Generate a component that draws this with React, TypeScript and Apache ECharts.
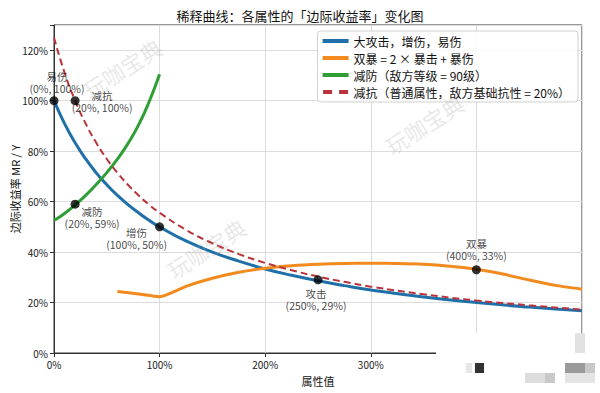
import React, { useEffect, useRef } from "react";
import * as echarts from "echarts";

const FONT = '"Noto Sans CJK SC", "Noto Sans", sans-serif';

const titleText = "稀释曲线：各属性的「边际收益率」变化图";
const xAxisName = "属性值";
const yAxisName = "边际收益率 MR / Y";
const seriesNames = [
  "大攻击，增伤，易伤",
  "双暴 = 2 × 暴击 + 暴伤",
  "减防（敌方等级 = 90级）",
  "减抗（普通属性，敌方基础抗性 = 20%）",
];

// x in %, y in %
const blueX = [0, 10, 20, 30, 40, 50, 60, 70, 80, 90, 100, 125, 150, 175, 200, 225, 250, 275, 300, 350, 400, 450, 500];
const blueY = [100, 90.9, 83.3, 76.9, 71.4, 66.7, 62.5, 58.8, 55.6, 52.6, 50, 44.4, 40, 36.4, 33.3, 30.8, 28.6, 26.7, 25, 22.2, 20, 18.2, 16.7];

const redX = [0, 10, 20, 30, 40, 50, 60, 70, 80, 90, 100, 125, 150, 175, 200, 225, 250, 275, 300, 350, 400, 450, 500];
const redY = [125, 111.1, 100, 90.9, 83.3, 76.9, 71.4, 66.7, 62.5, 58.8, 55.6, 48.8, 43.5, 39.2, 35.7, 32.8, 30.3, 28.2, 26.3, 23.3, 20.8, 18.9, 17.2];

const greenX = [0, 10, 20, 30, 40, 50, 60, 70, 80, 90, 100];
const greenY = [52.5, 55.3, 58.7, 62.5, 66.8, 71.5, 76.8, 83, 90.3, 99.5, 110.5];

const orangeX = [60, 80, 100, 125, 150, 175, 200, 225, 250, 275, 300, 325, 350, 375, 400, 425, 450, 475, 500];
const orangeY = [24.4, 23.4, 22.3, 26.4, 29.6, 32, 33.6, 34.6, 35.2, 35.5, 35.6, 35.5, 35.2, 34.4, 33.2, 31.3, 28.9, 26.8, 25.3];

const pointNames = ["易伤", "减抗", "减防", "增伤", "攻击", "双暴"];
const pointX = [0, 20, 20, 100, 250, 400];
const pointY = [100, 100, 59, 50, 29, 33];

const xTicks = [0, 100, 200, 300, 400, 500];
const yTicks = [0, 20, 40, 60, 80, 100, 120];

const labelOffsets: Record<string, number[]> = {
  易伤: [3, -18],
  减抗: [27, 1],
  减防: [17, 13],
  增伤: [-23, 12],
  攻击: [-2, 20],
  双暴: [0, -20],
};

const seriesColors = ["#1f6fa8", "#f28a1e", "#2e9e35", "#b8343a"];

const zip = (xs: number[], ys: number[]) => xs.map((x, i) => [x, ys[i]]);

export default function App() {
  const ref = useRef<HTMLDivElement>(null);
  useEffect(() => {
    if (!ref.current) return;
    const chart = echarts.init(ref.current, null, { renderer: "svg" });
    const lineCommon = {
      type: "line" as const,
      symbol: "none",
      showSymbol: false,
      z: 3,
    };
    const watermark = (x: number, y: number) => ({
      type: "text",
      x,
      y,
      rotation: Math.PI / 5.5,
      z: 100,
      style: {
        text: "玩咖宝典",
        font: `22px ${FONT}`,
        fill: "rgba(170,170,170,0.28)",
        align: "center",
        verticalAlign: "middle",
      },
    });
    const solidIcon = "path://M0,0H26V4H0Z";
    const dashIcon = "path://M0,0H9V4H0Z M16,0H25V4H16Z";
    chart.setOption({
      animation: false,
      backgroundColor: "#fff",
      textStyle: { fontFamily: FONT },
      title: {
        text: titleText,
        left: "center",
        top: 4,
        textStyle: { fontSize: 13, fontWeight: "normal", color: "#111", fontFamily: FONT },
      },
      legend: {
        orient: "vertical",
        right: 22,
        top: 31,
        itemWidth: 26,
        itemHeight: 4,
        itemGap: 5,
        padding: [4, 8, 4, 5],
        borderColor: "#d0d0d0",
        borderWidth: 1,
        borderRadius: 3,
        backgroundColor: "rgba(255,255,255,0.85)",
        textStyle: { fontSize: 12, color: "#111", fontFamily: FONT, lineHeight: 12 },
        data: seriesNames.map((n, i) => ({
          name: n,
          icon: i === 3 ? dashIcon : solidIcon,
          itemStyle: { color: seriesColors[i] },
        })),
      },
      grid: {
        left: 54,
        right: 18,
        top: 25,
        bottom: 40,
        show: true,
        borderColor: "#333",
        borderWidth: 1,
        backgroundColor: "transparent",
        outerBoundsMode: "none",
        containLabel: false,
      },
      xAxis: {
        type: "value",
        min: 0,
        max: 500,
        interval: 100,
        name: xAxisName,
        nameLocation: "middle",
        nameGap: 22,
        nameMoveOverlap: false,
        nameTextStyle: { fontSize: 11, color: "#111", fontFamily: FONT },
        axisLine: { show: true, lineStyle: { color: "#333" } },
        axisTick: { show: true, length: 4, lineStyle: { color: "#333" } },
        axisLabel: {
          fontSize: 10,
          color: "#222",
          margin: 6,
          formatter: (v: number) => (xTicks.includes(v) ? `${v}%` : ""),
        },
        splitLine: { show: true, lineStyle: { color: "#dcdcdc" } },
      },
      yAxis: {
        type: "value",
        min: 0,
        max: 130,
        interval: 20,
        name: yAxisName,
        nameLocation: "middle",
        nameGap: 34,
        nameMoveOverlap: false,
        nameRotate: 90,
        nameTextStyle: { fontSize: 11, color: "#111", fontFamily: FONT },
        axisLine: { show: true, lineStyle: { color: "#333" } },
        axisTick: { show: true, length: 4, lineStyle: { color: "#333" } },
        axisLabel: {
          fontSize: 10,
          color: "#222",
          margin: 6,
          formatter: (v: number) => (yTicks.includes(v) ? `${v}%` : ""),
        },
        splitLine: { show: true, lineStyle: { color: "#dcdcdc" } },
      },
      series: [
        {
          ...lineCommon,
          name: seriesNames[0],
          smooth: true,
          data: zip(blueX, blueY),
          itemStyle: { color: seriesColors[0] },
          lineStyle: { color: seriesColors[0], width: 3 },
        },
        {
          ...lineCommon,
          name: seriesNames[1],
          smooth: 0.2,
          data: zip(orangeX, orangeY),
          itemStyle: { color: seriesColors[1] },
          lineStyle: { color: seriesColors[1], width: 3 },
        },
        {
          ...lineCommon,
          name: seriesNames[2],
          smooth: true,
          data: zip(greenX, greenY),
          itemStyle: { color: seriesColors[2] },
          lineStyle: { color: seriesColors[2], width: 3 },
        },
        {
          ...lineCommon,
          name: seriesNames[3],
          smooth: true,
          data: zip(redX, redY),
          itemStyle: { color: seriesColors[3] },
          lineStyle: { color: seriesColors[3], width: 2, type: [7, 4] },
        },
        {
          type: "scatter",
          symbolSize: 9,
          z: 10,
          itemStyle: { color: "#000" },
          data: pointNames.map((n, i) => ({
            name: n,
            value: [pointX[i], pointY[i]],
            label: {
              show: true,
              position: "inside",
              offset: labelOffsets[n],
              align: "center",
              verticalAlign: "middle",
              formatter: `${n}\n(${pointX[i]}%, ${pointY[i]}%)`,
              fontSize: 10.5,
              lineHeight: 12,
              color: "#111",
              fontFamily: FONT,
            },
          })),
        },
      ],
      graphic: [
        watermark(122, 68),
        watermark(424, 124),
        watermark(206, 248),
        {
          type: "rect",
          z: 200,
          shape: { x: 436, y: 333, width: 164, height: 60 },
          style: { fill: "#fff" },
        },
        { type: "rect", z: 201, shape: { x: 466, y: 363, width: 6, height: 10 }, style: { fill: "#e6e6e6" } },
        { type: "rect", z: 201, shape: { x: 475, y: 363, width: 9, height: 10 }, style: { fill: "#333" } },
        { type: "rect", z: 201, shape: { x: 575, y: 333, width: 10, height: 20 }, style: { fill: "#e2e2e2" } },
        { type: "rect", z: 201, shape: { x: 565, y: 363, width: 20, height: 10 }, style: { fill: "#9a9a9a" } },
        { type: "rect", z: 201, shape: { x: 585, y: 363, width: 10, height: 10 }, style: { fill: "#c8c8c8" } },
        { type: "rect", z: 201, shape: { x: 525, y: 373, width: 30, height: 10 }, style: { fill: "#ddd" } },
        { type: "rect", z: 201, shape: { x: 545, y: 373, width: 10, height: 10 }, style: { fill: "#c9c9c9" } },
        { type: "rect", z: 201, shape: { x: 565, y: 373, width: 30, height: 10 }, style: { fill: "#e4e4e4" } },
      ],
    });
    return () => chart.dispose();
  }, []);
  return (
    <div
      ref={ref}
      style={{ position: "fixed", left: 0, top: 0, width: 600, height: 393 }}
    />
  );
}
